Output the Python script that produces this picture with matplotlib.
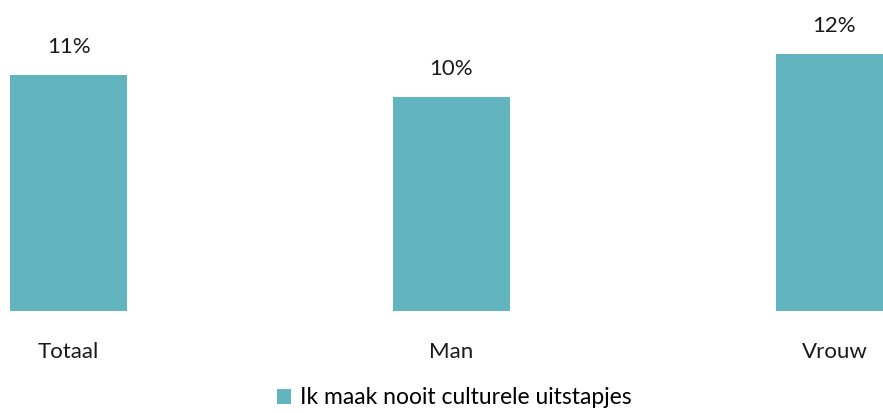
import matplotlib
matplotlib.use("Agg")
import matplotlib.pyplot as plt

categories = ['Totaal', 'Man', 'Vrouw']
values = [11, 10, 12]
labels = ['11%', '10%', '12%']
series_name = 'Ik maak nooit culturele uitstapjes'
color = '#62b5bf'

plt.rcParams['font.family'] = ['Lato', 'DejaVu Sans']

fig = plt.figure(figsize=(8.83, 4.13), dpi=100)
ax = fig.add_axes([0, 1 - 311 / 413, 1, 311 / 413])
x = range(len(categories))
bars = ax.bar(x, values, width=0.305, color=color, label=series_name)
ax.set_xlim(-0.1789, 2.1266)
ax.set_ylim(0, 14.5)

for xi, v, lab in zip(x, values, labels):
    ax.annotate(lab, (xi, v), xytext=(0, 28), textcoords='offset pixels',
                ha='center', va='center', fontsize=16, color='#1a1a1a')

ax.set_xticks(list(x))
ax.set_xticklabels(categories, fontsize=16, color='#1a1a1a')
ax.tick_params(axis='x', length=0, pad=22)
ax.set_yticks([])
for s in ax.spines.values():
    s.set_visible(False)

fig.legend(handles=[bars], labels=[series_name], loc='center',
           bbox_to_anchor=(0.515, 1 - 398 / 413), frameon=False, fontsize=16.5,
           handlelength=0.6, handleheight=0.6, handletextpad=0.4)

fig.savefig('out.png', dpi=100)
